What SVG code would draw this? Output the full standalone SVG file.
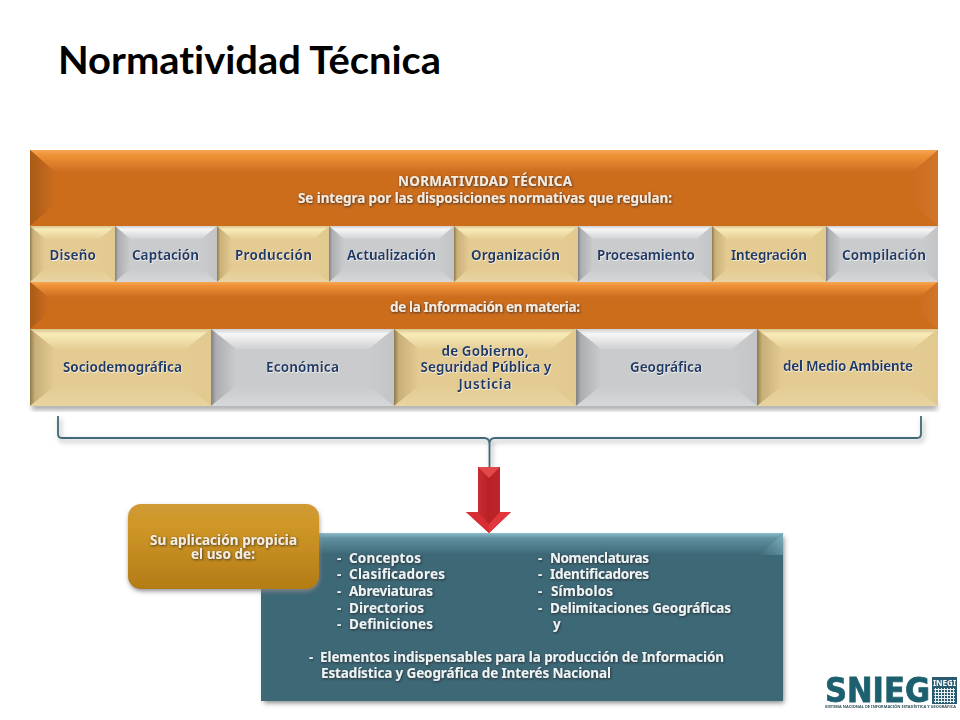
<svg xmlns="http://www.w3.org/2000/svg" width="960" height="720" viewBox="0 0 960 720">
<style>
text{font-family:"Noto Sans","Open Sans","Liberation Sans",sans-serif;font-weight:700}
.title{font-family:Lato,"Open Sans","Liberation Sans",sans-serif;font-size:37.500px;fill:#000;font-variant-ligatures:none}
.b{font-size:13.5px;fill:#1f3a68;filter:url(#hl)}
.w{font-size:13.5px;fill:#f3ece2;filter:url(#ds)}
.t{font-size:13.5px;fill:#eef3f4;filter:url(#ds)}
.m{text-anchor:middle}
.or{fill:#cc6d1f}.ta{fill:#e4cb92}.gr{fill:#cacbcd}
.ot{fill:url(#ot)}.ol{fill:url(#ol)}.orr{fill:url(#or)}
.tt{fill:url(#tt)}.tl{fill:url(#tl)}.tr{fill:url(#tr)}.tb{fill:url(#tb)}
.gt{fill:url(#gt)}.gl{fill:url(#gl)}.grr{fill:url(#grr)}.gb{fill:url(#gb)}
</style>
<defs>
<filter id="soft" filterUnits="userSpaceOnUse" x="0" y="100" width="960" height="620"><feGaussianBlur stdDeviation="0.45"/></filter>
<filter id="sh" x="-5%" y="-20%" width="110%" height="140%"><feGaussianBlur stdDeviation="2.5"/></filter>
<filter id="hl" x="-5%" y="-30%" width="110%" height="170%"><feDropShadow dx="0.6" dy="0.8" stdDeviation="0.7" flood-color="#fff" flood-opacity="0.8"/></filter>
<filter id="ds" x="-5%" y="-30%" width="110%" height="170%"><feDropShadow dx="0.7" dy="0.9" stdDeviation="0.8" flood-color="#222" flood-opacity="0.8"/></filter>
<linearGradient id="ot" x1="0" y1="0" x2="0" y2="1"><stop offset="0" stop-color="#f6a552"/><stop offset="0.25" stop-color="#ee9238"/><stop offset="1" stop-color="#cc6d1f"/></linearGradient>
<linearGradient id="ol"><stop offset="0" stop-color="#a85b17"/><stop offset="1" stop-color="#cc6d1f"/></linearGradient>
<linearGradient id="or"><stop offset="0" stop-color="#cc6d1f"/><stop offset="1" stop-color="#d2752a"/></linearGradient>
<linearGradient id="tt" x1="0" y1="0" x2="0" y2="1"><stop offset="0" stop-color="#d9c48e"/><stop offset="0.25" stop-color="#f8ebb8"/><stop offset="1" stop-color="#e6ce96"/></linearGradient>
<linearGradient id="tl"><stop offset="0" stop-color="#8f7a4a"/><stop offset="0.2" stop-color="#c9b07a"/><stop offset="1" stop-color="#e4cb92"/></linearGradient>
<linearGradient id="tr"><stop offset="0" stop-color="#e4cb92"/><stop offset="1" stop-color="#e2c98f"/></linearGradient>
<linearGradient id="tb" x1="0" y1="0" x2="0" y2="1"><stop offset="0" stop-color="#e4cb92"/><stop offset="1" stop-color="#e8d4a2"/></linearGradient>
<linearGradient id="gt" x1="0" y1="0" x2="0" y2="1"><stop offset="0" stop-color="#cfd0d2"/><stop offset="0.25" stop-color="#f6f6f6"/><stop offset="1" stop-color="#d0d1d3"/></linearGradient>
<linearGradient id="gl"><stop offset="0" stop-color="#7f8084"/><stop offset="0.2" stop-color="#adaeb1"/><stop offset="1" stop-color="#cacbcd"/></linearGradient>
<linearGradient id="grr"><stop offset="0" stop-color="#cacbcd"/><stop offset="1" stop-color="#c3c4c6"/></linearGradient>
<linearGradient id="gb" x1="0" y1="0" x2="0" y2="1"><stop offset="0" stop-color="#cacbcd"/><stop offset="1" stop-color="#d6d7d9"/></linearGradient>
<linearGradient id="teal" x1="0" y1="0" x2="0" y2="1"><stop offset="0" stop-color="#8dbccb"/><stop offset="0.25" stop-color="#5f909f"/><stop offset="1" stop-color="#3d6776"/></linearGradient>
<linearGradient id="tealc" x1="1" y1="0" x2="0" y2="1"><stop offset="0" stop-color="#7fb0bf"/><stop offset="1" stop-color="#3d6776"/></linearGradient>
<linearGradient id="gold" x1="0" y1="0" x2="0" y2="1"><stop offset="0" stop-color="#d09a36"/><stop offset="0.25" stop-color="#cf9726"/><stop offset="1" stop-color="#b37c17"/></linearGradient>
<linearGradient id="red"><stop offset="0" stop-color="#d8383c"/><stop offset="0.5" stop-color="#b82228"/><stop offset="1" stop-color="#c4282c"/></linearGradient>
<pattern id="inegi" width="3" height="3" patternUnits="userSpaceOnUse"><rect width="3" height="3" fill="#e8f0f2"/><rect width="2" height="2" fill="#2c5a70"/></pattern>
</defs>

<text class="title" x="58" y="74" textLength="383" lengthAdjust="spacingAndGlyphs">Normatividad Técnica</text>

<g filter="url(#soft)">
<rect x="32" y="403" width="905" height="7" fill="#aaa" filter="url(#sh)"/>

<g id="bar-top">
<rect class="or" x="30" y="150" width="908" height="76"/>
<polygon class="ot" points="30,150 938,150 913,172 55,172"/>
<polygon class="ol" points="30,150 55,172 55,204 30,226"/>
<polygon class="orr" points="938,150 913,172 913,204 938,226"/>
<text class="w m" x="485" y="186" textLength="174">NORMATIVIDAD TÉCNICA</text>
<text class="w m" x="485" y="203" textLength="374">Se integra por las disposiciones normativas que regulan:</text>
</g>

<g id="cell-diseno">
<rect class="ta" x="30" y="226" width="85" height="56"/>
<polygon class="tt" points="30,226 115,226 100,239 45,239"/>
<polygon class="tl" points="30,226 45,239 45,269 30,282"/>
<polygon class="tr" points="115,226 100,239 100,269 115,282"/>
<polygon class="tb" points="30,282 45,269 100,269 115,282"/>
<text class="b" x="49.5" y="260" textLength="46.5">Diseño</text>
</g>
<g id="cell-captacion">
<rect class="gr" x="115" y="226" width="102" height="56"/>
<polygon class="gt" points="115,226 217,226 202,239 130,239"/>
<polygon class="gl" points="115,226 130,239 130,269 115,282"/>
<polygon class="grr" points="217,226 202,239 202,269 217,282"/>
<polygon class="gb" points="115,282 130,269 202,269 217,282"/>
<text class="b" x="132" y="260" textLength="67">Captación</text>
</g>
<g id="cell-produccion">
<rect class="ta" x="217" y="226" width="112" height="56"/>
<polygon class="tt" points="217,226 329,226 314,239 232,239"/>
<polygon class="tl" points="217,226 232,239 232,269 217,282"/>
<polygon class="tr" points="329,226 314,239 314,269 329,282"/>
<polygon class="tb" points="217,282 232,269 314,269 329,282"/>
<text class="b" x="235" y="260" textLength="77">Producción</text>
</g>
<g id="cell-actualizacion">
<rect class="gr" x="329" y="226" width="125" height="56"/>
<polygon class="gt" points="329,226 454,226 439,239 344,239"/>
<polygon class="gl" points="329,226 344,239 344,269 329,282"/>
<polygon class="grr" points="454,226 439,239 439,269 454,282"/>
<polygon class="gb" points="329,282 344,269 439,269 454,282"/>
<text class="b" x="347" y="260" textLength="89">Actualización</text>
</g>
<g id="cell-organizacion">
<rect class="ta" x="454" y="226" width="124" height="56"/>
<polygon class="tt" points="454,226 578,226 563,239 469,239"/>
<polygon class="tl" points="454,226 469,239 469,269 454,282"/>
<polygon class="tr" points="578,226 563,239 563,269 578,282"/>
<polygon class="tb" points="454,282 469,269 563,269 578,282"/>
<text class="b" x="471" y="260" textLength="89">Organización</text>
</g>
<g id="cell-procesamiento">
<rect class="gr" x="578" y="226" width="134" height="56"/>
<polygon class="gt" points="578,226 712,226 697,239 593,239"/>
<polygon class="gl" points="578,226 593,239 593,269 578,282"/>
<polygon class="grr" points="712,226 697,239 697,269 712,282"/>
<polygon class="gb" points="578,282 593,269 697,269 712,282"/>
<text class="b" x="597" y="260" textLength="98">Procesamiento</text>
</g>
<g id="cell-integracion">
<rect class="ta" x="712" y="226" width="114" height="56"/>
<polygon class="tt" points="712,226 826,226 811,239 727,239"/>
<polygon class="tl" points="712,226 727,239 727,269 712,282"/>
<polygon class="tr" points="826,226 811,239 811,269 826,282"/>
<polygon class="tb" points="712,282 727,269 811,269 826,282"/>
<text class="b" x="731" y="260" textLength="76">Integración</text>
</g>
<g id="cell-compilacion">
<rect class="gr" x="826" y="226" width="112" height="56"/>
<polygon class="gt" points="826,226 938,226 923,239 841,239"/>
<polygon class="gl" points="826,226 841,239 841,269 826,282"/>
<polygon class="grr" points="938,226 923,239 923,269 938,282"/>
<polygon class="gb" points="826,282 841,269 923,269 938,282"/>
<text class="b" x="842" y="260" textLength="84">Compilación</text>
</g>

<g id="bar-mid">
<rect class="or" x="30" y="282" width="908" height="47"/>
<polygon class="ot" points="30,282 938,282 920,297 48,297"/>
<polygon class="ol" points="30,282 48,297 48,314 30,329"/>
<polygon class="orr" points="938,282 920,297 920,314 938,329"/>
<text class="w m" x="485" y="312" textLength="190">de la Información en materia:</text>
</g>

<g id="cell-sociodemografica">
<rect class="ta" x="30" y="329" width="181" height="77"/>
<polygon class="tt" points="30,329 211,329 186,349 55,349"/>
<polygon class="tl" points="30,329 55,349 55,386 30,406"/>
<polygon class="tr" points="211,329 186,349 186,386 211,406"/>
<polygon class="tb" points="30,406 55,386 186,386 211,406"/>
<text class="b" x="63" y="372" textLength="119">Sociodemográfica</text>
</g>
<g id="cell-economica">
<rect class="gr" x="211" y="329" width="183" height="77"/>
<polygon class="gt" points="211,329 394,329 369,349 236,349"/>
<polygon class="gl" points="211,329 236,349 236,386 211,406"/>
<polygon class="grr" points="394,329 369,349 369,386 394,406"/>
<polygon class="gb" points="211,406 236,386 369,386 394,406"/>
<text class="b" x="266" y="372" textLength="73">Económica</text>
</g>
<g id="cell-gobierno">
<rect class="ta" x="394" y="329" width="182" height="77"/>
<polygon class="tt" points="394,329 576,329 551,349 419,349"/>
<polygon class="tl" points="394,329 419,349 419,386 394,406"/>
<polygon class="tr" points="576,329 551,349 551,386 576,406"/>
<polygon class="tb" points="394,406 419,386 551,386 576,406"/>
<text class="b m" x="485" y="356" textLength="87">de Gobierno,</text>
<text class="b m" x="486" y="372" textLength="131">Seguridad Pública y</text>
<text class="b m" x="485" y="389" textLength="53">Justicia</text>
</g>
<g id="cell-geografica">
<rect class="gr" x="576" y="329" width="181" height="77"/>
<polygon class="gt" points="576,329 757,329 732,349 601,349"/>
<polygon class="gl" points="576,329 601,349 601,386 576,406"/>
<polygon class="grr" points="757,329 732,349 732,386 757,406"/>
<polygon class="gb" points="576,406 601,386 732,386 757,406"/>
<text class="b" x="630" y="372" textLength="72">Geográfica</text>
</g>
<g id="cell-medio-ambiente">
<rect class="ta" x="757" y="329" width="181" height="77"/>
<polygon class="tt" points="757,329 938,329 913,349 782,349"/>
<polygon class="tl" points="757,329 782,349 782,386 757,406"/>
<polygon class="tr" points="938,329 913,349 913,386 938,406"/>
<polygon class="tb" points="757,406 782,386 913,386 938,406"/>
<text class="b" x="783" y="371" textLength="130">del Medio Ambiente</text>
</g>

<g id="connectors">
<path d="M58 416V434Q58 438 62 438H484Q489.500 438 489.500 444V467M921 416V434Q921 438 917 438H495Q489.500 438 489.500 444" fill="none" stroke="#999" stroke-width="2.500" filter="url(#sh)" transform="translate(2 3)" opacity="0.7"/>
<path d="M58 416V434Q58 438 62 438H484Q489.500 438 489.500 444V467M921 416V434Q921 438 917 438H495Q489.500 438 489.500 444" fill="none" stroke="#3f6b78" stroke-width="1.800"/>
<polygon fill="url(#red)" points="478,467 500,467 500,512 511,512 489,533 466,512 478,512"/>
<polygon fill="#e2474a" points="478,467 500,467 489,478"/>
<polygon fill="#d62e32" points="466,512 478,512 489,524 489,533"/>
<polygon fill="#e0383c" points="511,512 500,512 489,524 489,533"/>
</g>

<g id="box-teal">
<rect x="264" y="537" width="520" height="166" fill="#888" filter="url(#sh)"/>
<rect x="261" y="533" width="522" height="168" fill="#3d6776"/>
<polygon fill="url(#teal)" points="261,533 783,533 758,555 286,555"/>
<polygon fill="url(#tealc)" points="783,533 758,555 783,555"/>
<text class="t" x="337" y="563">-</text><text class="t" x="349" y="563" textLength="72">Conceptos</text>
<text class="t" x="337" y="579">-</text><text class="t" x="349" y="579" textLength="96">Clasificadores</text>
<text class="t" x="337" y="596">-</text><text class="t" x="349" y="596" textLength="84">Abreviaturas</text>
<text class="t" x="337" y="613">-</text><text class="t" x="349" y="613" textLength="75">Directorios</text>
<text class="t" x="337" y="629">-</text><text class="t" x="349" y="629" textLength="84">Definiciones</text>
<text class="t" x="538" y="563">-</text><text class="t" x="550" y="563" textLength="99">Nomenclaturas</text>
<text class="t" x="538" y="579">-</text><text class="t" x="550" y="579" textLength="99">Identificadores</text>
<text class="t" x="538" y="596">-</text><text class="t" x="551" y="596" textLength="62">Símbolos</text>
<text class="t" x="538" y="613">-</text><text class="t" x="550" y="613" textLength="181">Delimitaciones Geográficas</text>
<text class="t" x="553" y="629">y</text>
<text class="t" x="309" y="662">-</text><text class="t" x="320" y="662" textLength="404">Elementos indispensables para la producción de Información</text>
<text class="t" x="321" y="678" textLength="290">Estadística y Geográfica de Interés Nacional</text>
</g>

<g id="box-gold">
<rect x="129" y="507" width="190" height="84" rx="13" fill="#888" filter="url(#sh)"/>
<rect x="128" y="504" width="191" height="85" rx="13" fill="url(#gold)"/>
<text class="w m" x="223.500" y="545" textLength="147">Su aplicación propicia</text>
<text class="w m" x="223" y="559" textLength="64">el uso de:</text>
</g>

<g id="logo">
<text x="825" y="702" font-size="33" fill="#1f5f6e" stroke="#1f5f6e" stroke-width="0.800" textLength="105" lengthAdjust="spacingAndGlyphs" style="font-family:'DejaVu Sans',sans-serif;font-weight:700">SNIEG</text>
<rect x="932" y="677" width="25" height="27" fill="#2c5a70"/>
<rect x="934" y="688" width="21" height="15" fill="url(#inegi)"/>
<text x="933" y="686" font-size="8" fill="#fff" textLength="23" lengthAdjust="spacingAndGlyphs">INEGI</text>
<text x="825" y="708" font-size="4" fill="#33505a" textLength="131" lengthAdjust="spacingAndGlyphs">SISTEMA NACIONAL DE INFORMACIÓN ESTADÍSTICA Y GEOGRÁFICA</text>
</g>
</g>
</svg>
